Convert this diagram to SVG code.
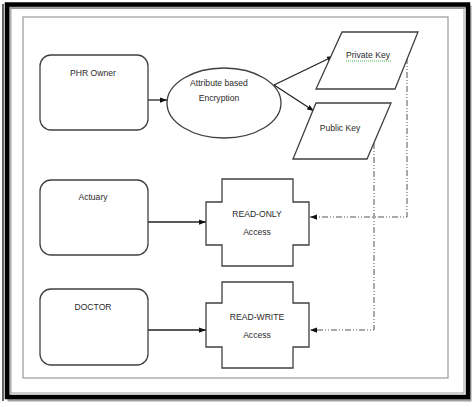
<svg xmlns="http://www.w3.org/2000/svg" width="476" height="407" viewBox="0 0 476 407">
<defs>
<marker id="arr" viewBox="0 0 8 6" refX="8" refY="3" markerWidth="7" markerHeight="5.5" markerUnits="userSpaceOnUse" orient="auto">
<path d="M0,0 L8,3 L0,6 Z" fill="#111"/>
</marker>
<style>
.shape{fill:#fff;stroke:#404040;stroke-width:1.3}
.t{font-family:"Liberation Sans",Arial,sans-serif;font-size:8.6px;fill:#2a2a2a;text-anchor:middle}
.c{fill:none;stroke:#222;stroke-width:1.3}
.d{fill:none;stroke:#555;stroke-width:1;stroke-dasharray:6 2 1 2 1 2}
</style>
</defs>
<rect x="0" y="0" width="476" height="407" fill="#fff"/>
<g id="frame">
<rect x="9" y="7" width="461" height="393" fill="none" stroke="#a0a0a0" stroke-width="3"/>
<rect x="7" y="4.5" width="461" height="392.5" fill="none" stroke="#000" stroke-width="4.5"/>
<rect x="11" y="8.5" width="453" height="384.5" fill="none" stroke="#888" stroke-width="0.8"/>
<line x1="3" y1="4" x2="3" y2="401" stroke="#000" stroke-width="1.2"/>
<rect x="23" y="17" width="425" height="361" fill="none" stroke="#9a9a9a" stroke-width="1.2"/>
</g>
<g id="connectors">
<line class="c" x1="148" y1="100" x2="167" y2="100" marker-end="url(#arr)"/>
<line class="c" x1="274" y1="85" x2="334" y2="56" marker-end="url(#arr)"/>
<line class="c" x1="274" y1="85" x2="314" y2="111" marker-end="url(#arr)"/>
<line class="c" x1="148" y1="222" x2="206" y2="222" marker-end="url(#arr)"/>
<line class="c" x1="148" y1="330" x2="206" y2="330" marker-end="url(#arr)"/>
<path class="d" d="M407,58 V217 H310" marker-end="url(#arr)"/>
<path class="d" d="M374,143 V330 H310" marker-end="url(#arr)"/>
</g>
<g id="phr-owner">
<rect class="shape" x="40" y="55" width="108" height="75" rx="11"/>
<text class="t" x="93" y="76">PHR Owner</text>
</g>
<g id="abe">
<ellipse class="shape" cx="224" cy="103" rx="57" ry="35"/>
<text class="t" x="219" y="86">Attribute based</text>
<text class="t" x="219" y="101">Encryption</text>
</g>
<g id="private-key">
<polygon class="shape" points="342,32 418,32 395,89 316,89"/>
<text class="t" x="368" y="58">Private  Key</text>
<line x1="346" y1="61" x2="391" y2="61" stroke="#3cb043" stroke-width="0.9" stroke-dasharray="1 1"/>
</g>
<g id="public-key">
<polygon class="shape" points="316,103 391,103 367,159 293,159"/>
<text class="t" x="340" y="131">Public Key</text>
</g>
<g id="actuary">
<rect class="shape" x="40" y="180" width="108" height="75" rx="11"/>
<text class="t" x="93" y="200">Actuary</text>
</g>
<g id="read-only">
<path class="shape" d="M222,179 H293 V202 H309 V245 H293 V266 H222 V245 H206 V202 H222 Z"/>
<text class="t" x="257" y="217">READ-ONLY</text>
<text class="t" x="257" y="235">Access</text>
</g>
<g id="doctor">
<rect class="shape" x="40" y="289" width="108" height="76" rx="11"/>
<text class="t" x="93" y="310">DOCTOR</text>
</g>
<g id="read-write">
<path class="shape" d="M222,282 H293 V303 H309 V347 H293 V368 H222 V347 H206 V303 H222 Z"/>
<text class="t" x="257" y="320">READ-WRITE</text>
<text class="t" x="257" y="338">Access</text>
</g>
</svg>
